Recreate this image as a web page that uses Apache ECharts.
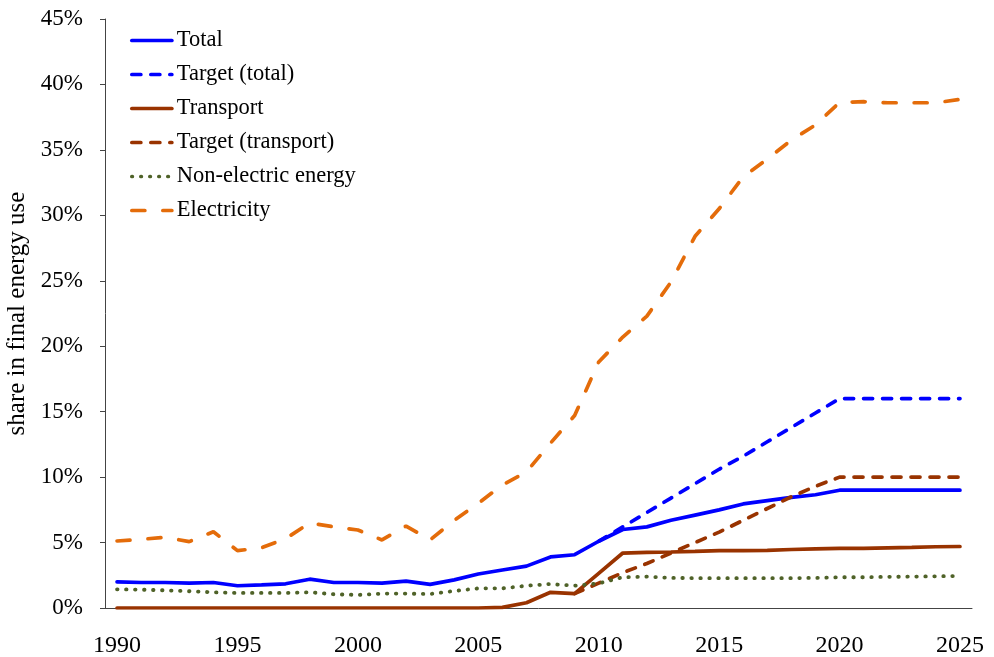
<!DOCTYPE html>
<html>
<head>
<meta charset="utf-8">
<script src="https://cdn.jsdelivr.net/npm/echarts@6/dist/echarts.min.js"></script>
<style>
	html, body { margin: 0; padding: 0; background: #fff; }
	#main { width: 994px; height: 657px; }
</style>
</head>
<body>
<div id="main"></div>
<script>
const years = [];
for (let y = 1990; y <= 2025; y++) years.push(String(y));

const total = [2.0, 1.95, 1.95, 1.9, 1.95, 1.7, 1.77, 1.85, 2.2, 1.95,
	1.95, 1.9, 2.05, 1.8, 2.15, 2.6, 2.9, 3.2, 3.9, 4.07,
	5.1, 6.0, 6.2, 6.7, 7.1, 7.5, 7.95, 8.2, 8.45, 8.65,
	9.0, 9.0, 9.0, 9.0, 9.0, 9.0];

const targetTotal = [null, null, null, null, null, null, null, null, null, null,
	null, null, null, null, null, null, null, null, null, null,
	5.1, 6.2, 7.3, 8.4, 9.5, 10.6, 11.6, 12.7, 13.8, 14.9,
	16.0, 16.0, 16.0, 16.0, 16.0, 16.0];

const transport = [0, 0, 0, 0, 0, 0, 0, 0, 0, 0,
	0, 0, 0, 0, 0, 0, 0.05, 0.4, 1.2, 1.1,
	2.65, 4.2, 4.25, 4.28, 4.32, 4.38, 4.38, 4.4, 4.47, 4.52,
	4.55, 4.56, 4.6, 4.63, 4.68, 4.7];

const targetTransport = [null, null, null, null, null, null, null, null, null, null,
	null, null, null, null, null, null, null, null, null, 1.1,
	1.9, 2.7, 3.4, 4.2, 5.0, 5.8, 6.7, 7.6, 8.5, 9.3,
	10.0, 10.0, 10.0, 10.0, 10.0, 10.0];

const nonElectric = [1.43, 1.4, 1.35, 1.28, 1.2, 1.15, 1.15, 1.15, 1.2, 1.05,
	1.0, 1.1, 1.1, 1.07, 1.3, 1.5, 1.5, 1.7, 1.83, 1.7,
	1.88, 2.35, 2.4, 2.3, 2.28, 2.28, 2.28, 2.28, 2.28, 2.3,
	2.35, 2.35, 2.38, 2.4, 2.42, 2.45];

const electricity = [5.12, 5.25, 5.4, 5.07, 5.83, 4.38, 4.6, 5.3, 6.5, 6.2,
	5.96, 5.2, 6.26, 5.2, 6.7, 8.0, 9.4, 10.4, 12.6, 14.7,
	18.8, 20.7, 22.3, 24.9, 28.4, 30.5, 32.95, 34.3, 35.75, 36.9,
	38.63, 38.68, 38.6, 38.6, 38.6, 38.86];

const font = "'Liberation Serif', 'Times New Roman', serif";

function line(name, data, color, type, width) {
	return {
		name: name,
		type: "line",
		data: data,
		symbol: "none",
		connectNulls: false,
		lineStyle: { color: color, width: width || 3.7, type: type, cap: "round" },
		itemStyle: { color: color },
	};
}

let myChart = echarts.init(document.getElementById("main"), null, { renderer: "canvas" });

myChart.setOption({
	animation: false,
	textStyle: { fontFamily: font, color: "#000" },
	grid: { left: 105, right: 22, top: 19, bottom: 49, containLabel: false, outerBoundsMode: "none" },
	legend: {
		orient: "vertical",
		left: 125,
		top: 24,
		itemWidth: 40,
		itemHeight: 14,
		itemGap: 11,
		itemStyle: { opacity: 0 },
		lineStyle: { width: 3.7 },
		textStyle: { fontFamily: font, fontSize: 22.5, color: "#000" },
		data: ["Total", "Target (total)", "Transport", "Target (transport)", "Non-electric energy", "Electricity"],
	},
	xAxis: {
		type: "category",
		data: years,
		boundaryGap: true,
		axisLine: { lineStyle: { color: "#444", width: 1 } },
		axisTick: { interval: 0, length: 6, lineStyle: { color: "#444" } },
		axisLabel: { interval: 4, margin: 26, fontSize: 24, color: "#000", fontFamily: font },
	},
	yAxis: {
		type: "value",
		min: 0,
		max: 45,
		interval: 5,
		name: "share in final energy use",
		nameLocation: "middle",
		nameGap: 74,
		nameRotate: 90,
		nameTextStyle: { fontSize: 25, color: "#000", fontFamily: font },
		axisLine: { show: true, lineStyle: { color: "#444", width: 1 } },
		axisTick: { show: true, length: 5, lineStyle: { color: "#444" } },
		splitLine: { show: false },
		axisLabel: { formatter: "{value}%", margin: 22, fontSize: 23, color: "#000", fontFamily: font },
	},
	series: [
		line("Total", total, "#0000FF", "solid"),
		line("Target (total)", targetTotal, "#0000FF", [9, 10]),
		line("Transport", transport, "#993300", "solid"),
		line("Target (transport)", targetTransport, "#993300", [9, 10]),
		line("Non-electric energy", nonElectric, "#4F6228", [0.5, 8.5], 3.8),
		line("Electricity", electricity, "#E46C0A", [13, 18]),
	],
});
</script>
</body>
</html>
